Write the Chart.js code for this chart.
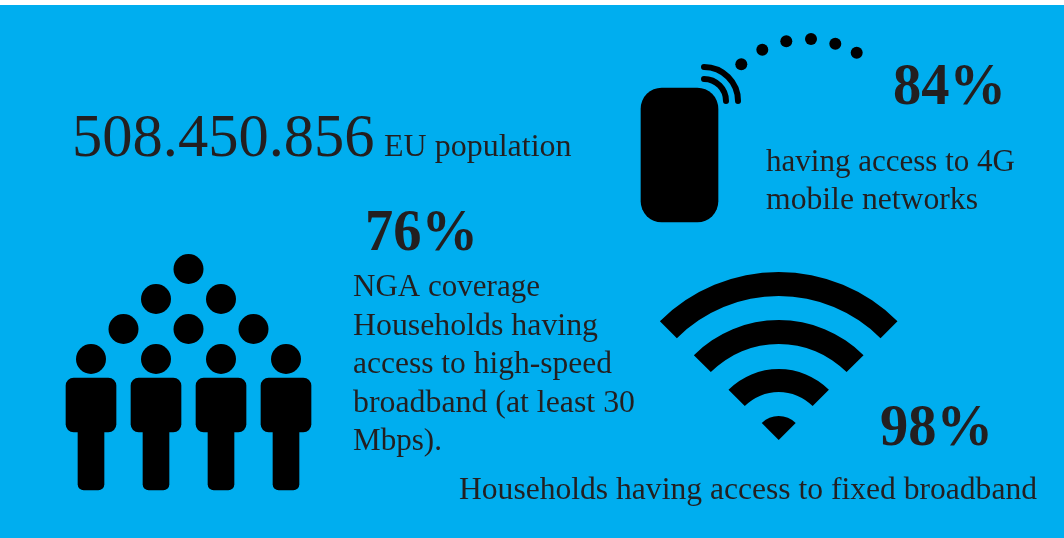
<!DOCTYPE html>
<html>
<head>
<meta charset="utf-8">
<title>EU broadband coverage</title>
<script src="https://cdn.jsdelivr.net/npm/chart.js@4"></script>
<style>
    html, body { margin: 0; padding: 0; background: #fff; }
    canvas { display: block; }
</style>
</head>
<body>
<canvas id="infographic" width="1064" height="538"></canvas>
<script>
// Values and wording
const populationValue = '508.450.856';
const populationLabel = 'EU population';
const coverageValues = [84, 76, 98];
const mobileLines = ['having access to 4G', 'mobile networks'];
const ngaLines = ['NGA coverage', 'Households having', 'access to high-speed', 'broadband (at least 30', 'Mbps).'];
const fixedLines = ['Households having access to fixed broadband'];

// Pictogram layout, in the units of the hidden axes (0-1064, 0-538)
const personColumns = [91, 156, 221, 286];
const headRows = [
    { y: 269, x: [188.5] },
    { y: 299, x: [156, 221] },
    { y: 329, x: [123.5, 188.5, 253.5] },
    { y: 359, x: [91, 156, 221, 286] }
];
const signalDots = [[741.3, 64.3], [762.3, 49.7], [786.3, 41.3], [811, 39], [835.3, 43.7], [856.7, 52.7]];
const wifiBands = [[144, 168], [96, 120], [48, 71], [0, 24]];

// Line widths measured on the picture, the serif here runs a bit different
const mobileWidths = [249, 212];
const ngaWidths = [187, 245, 259, 282, 89];
const fixedWidths = [578];

const INK = '#231F20';
const BLUE = '#00AEEF';
const SERIF = '"Liberation Serif", serif';

const heads = headRows.flatMap(row => row.x.map(x => ({ x: x, y: row.y })));
const dots = signalDots.map(p => ({ x: p[0], y: p[1] }));

const bars = (xs, from, to) => xs.map(x => ({ x: x, y: [from, to] }));

// Background with the thin white strip on top
const backdrop = {
    id: 'backdrop',
    beforeDraw(chart) {
        const { ctx, width, height } = chart;
        ctx.save();
        ctx.fillStyle = BLUE;
        ctx.fillRect(0, 5, width, height - 5);
        ctx.restore();
    }
};

// Signal arcs and wifi wedges go through the scales too
const arcs = {
    id: 'arcs',
    afterDatasetsDraw(chart) {
        const { ctx } = chart;
        const px = chart.scales.x, py = chart.scales.y;
        ctx.save();

        ctx.strokeStyle = '#000';
        ctx.lineWidth = 6;
        ctx.lineCap = 'round';
        [34, 22].forEach(r => {
            ctx.beginPath();
            ctx.arc(px.getPixelForValue(704), py.getPixelForValue(101), r, -Math.PI / 2, 0);
            ctx.stroke();
        });

        ctx.fillStyle = '#000';
        const cx = px.getPixelForValue(778.7), cy = py.getPixelForValue(440);
        wifiBands.forEach(([inner, outer]) => {
            ctx.beginPath();
            ctx.arc(cx, cy, outer, -Math.PI * 0.75, -Math.PI * 0.25);
            ctx.arc(cx, cy, inner, -Math.PI * 0.25, -Math.PI * 0.75, true);
            ctx.closePath();
            ctx.fill();
        });
        ctx.restore();
    }
};

// All the text of the page
const captions = {
    id: 'captions',
    afterDraw(chart) {
        const { ctx } = chart;
        const px = chart.scales.x, py = chart.scales.y;
        const put = (text, x, y, font, maxWidth) => {
            ctx.font = font;
            ctx.fillText(text, px.getPixelForValue(x), py.getPixelForValue(y), maxWidth);
        };
        const body = `32px ${SERIF}`;
        const big = `bold 60px ${SERIF}`;

        ctx.save();
        ctx.fillStyle = INK;
        ctx.textBaseline = 'alphabetic';

        put(populationValue, 72, 156, `60.5px ${SERIF}`);
        put(populationLabel, 384, 156, body);

        put(coverageValues[0] + '%', 893, 104, big, 113);
        put(coverageValues[1] + '%', 365, 250, big, 113);
        put(coverageValues[2] + '%', 880, 445, big, 113);

        mobileLines.forEach((line, i) => put(line, 766, 171 + i * 38, body, mobileWidths[i]));
        ngaLines.forEach((line, i) => put(line, 353, 296 + i * 38.5, body, ngaWidths[i]));
        fixedLines.forEach((line, i) => put(line, 459, 499, body, fixedWidths[i]));
        ctx.restore();
    }
};

new Chart(document.getElementById('infographic'), {
    type: 'scatter',
    data: {
        datasets: [
            { type: 'scatter', label: 'Heads', data: heads, pointRadius: 15, pointHoverRadius: 15, backgroundColor: '#000', borderWidth: 0 },
            { type: 'scatter', label: 'Signal dots', data: dots, pointRadius: 6, pointHoverRadius: 6, backgroundColor: '#000', borderWidth: 0 },
            { type: 'bar', label: 'Torsos', data: bars(personColumns, 378, 432), barThickness: 50, borderRadius: 8, borderSkipped: false, grouped: false, backgroundColor: '#000' },
            { type: 'bar', label: 'Legs', data: bars(personColumns, 425, 490), barThickness: 26, borderRadius: 6, borderSkipped: false, grouped: false, backgroundColor: '#000' },
            { type: 'bar', label: 'Phone', data: bars([679.5], 88, 222), barThickness: 77, borderRadius: 21, borderSkipped: false, grouped: false, backgroundColor: '#000' }
        ]
    },
    options: {
        responsive: false,
        animation: false,
        events: [],
        layout: { padding: 0, autoPadding: false },
        plugins: { legend: { display: false }, tooltip: { enabled: false }, title: { display: false } },
        scales: {
            x: { type: 'linear', display: false, min: 0, max: 1064, offset: false },
            y: { type: 'linear', display: false, min: 0, max: 538, reverse: true }
        }
    },
    plugins: [backdrop, arcs, captions]
});
</script>
</body>
</html>
